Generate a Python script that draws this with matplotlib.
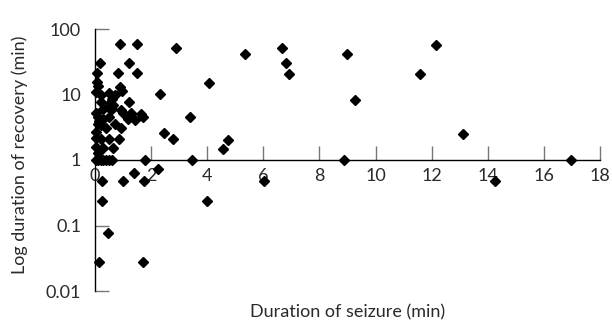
import matplotlib
matplotlib.use("Agg")
import matplotlib.pyplot as plt

plt.rcParams['font.family'] = ['Lato', 'DejaVu Sans']

# duration of seizure (min) and duration of recovery (min)
seizure = [0.89, 1.48, 2.9, 0.17, 1.22, 0.08, 0.81, 1.48, 0.08, 0.12, 0.9, 0.96,
           2.32, 0.2, 0.5, 0.7, 0.05,
           0.6, 0.55, 0.22, 1.22, 0.45, 0.65, 0.3, 0.05, 0.93, 1.28, 1.0, 1.63,
           1.7, 1.17, 1.41, 3.4, 0.1, 0.15, 0.3, 0.22, 0.4, 0.93, 0.05, 0.1,
           2.46, 2.79, 0.22, 0.5, 0.85, 0.05, 0.28, 0.63, 0.05, 0.1, 0.7, 0.5,
           0.6, 4.08, 4.74, 4.56,
           0.02, 0.1, 0.2, 0.3, 0.4, 0.5, 0.6, 1.78, 3.46, 8.88, 16.98,
           0.25, 0.99, 1.4, 1.75, 2.26, 0.25, 0.46, 0.16, 1.72, 6.04, 4.0, 14.24,
           5.33, 6.65, 6.82, 6.9, 8.98, 9.26, 12.15, 11.59, 13.12]
recovery = [60, 60, 52, 30.6, 30, 21, 21, 21, 15.4, 13.5, 13, 11.3,
            10.2, 10, 10.5, 9.8, 11,
            8.5, 7.5, 7.8, 7.6, 6.5, 6.8, 6, 5.2, 5.8, 5.2, 5.2, 5.0,
            4.6, 4.2, 4.1, 4.6, 4.5, 4.0, 4.2, 3.4, 3.05, 3.05, 2.7, 3.6,
            2.55, 2.07, 2.07, 2.07, 2.07, 2.2, 1.54, 1.54, 1.6, 1.3, 3.5, 4.5,
            6, 15.1, 2.0, 1.47,
            1, 1, 1, 1, 1, 1, 1, 1, 1, 1, 1,
            0.48, 0.48, 0.64, 0.48, 0.72, 0.24, 0.078, 0.028, 0.028, 0.48, 0.24, 0.48,
            41.5, 52, 30.6, 20.6, 41.5, 8.2, 57, 20.6, 2.5]

x_ticks = [0, 2, 4, 6, 8, 10, 12, 14, 16, 18]
y_ticks = [0.01, 0.1, 1, 10, 100]
y_labels = ['0.01', '0.1', '1', '10', '100']

txt = '#2a2a2a'

fig = plt.figure(figsize=(6.12, 3.22), dpi=100)
ax = fig.add_axes([95/612, 31/322, 505/612, 262/322])

ax.plot(seizure, recovery, linestyle='none', marker='D', markersize=5,
        color='black', clip_on=False)

ax.set_yscale('log')
ax.set_xlim(0, 18)
ax.set_ylim(0.01, 100)

ax.spines['top'].set_visible(False)
ax.spines['right'].set_visible(False)
ax.spines['bottom'].set_position(('data', 1))
ax.spines['left'].set_linewidth(1.0)
ax.spines['bottom'].set_linewidth(1.0)

ax.set_xticks(x_ticks)
ax.set_yticks(y_ticks)
ax.set_yticklabels(y_labels)
ax.yaxis.set_minor_locator(matplotlib.ticker.NullLocator())
ax.tick_params(axis='both', direction='in', length=10, width=1,
               color='#777777', labelcolor=txt, labelsize=13)
ax.tick_params(axis='x', pad=6)
ax.tick_params(axis='y', pad=10)

ax.set_xlabel('Duration of seizure (min)', fontsize=13, color=txt, va='center')
ax.xaxis.set_label_coords(0.5, (291 - 312) / 262)
ax.set_ylabel('Log duration of recovery (min)', fontsize=13, color=txt, va='center')
ax.yaxis.set_label_coords(-75/505, 0.52)

fig.savefig('out.png', dpi=100)
